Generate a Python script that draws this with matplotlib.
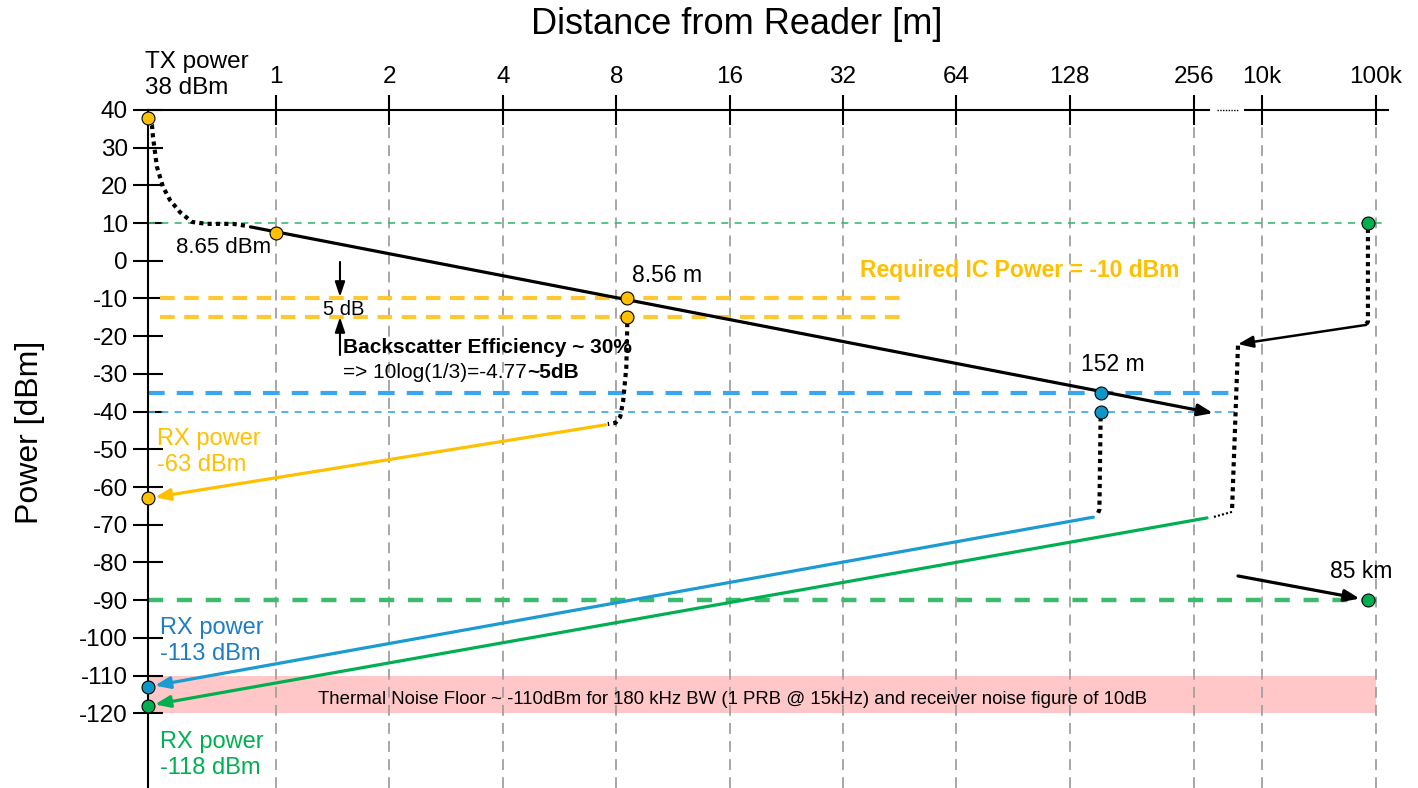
import numpy as np
import matplotlib
matplotlib.use("Agg")
import matplotlib.pyplot as plt

plt.rcParams['font.family'] = ['Liberation Sans', 'DejaVu Sans']
plt.rcParams['axes.unicode_minus'] = False

# ---- data ----
dist_ticks = [1, 2, 4, 8, 16, 32, 64, 128, 256, 1e4, 1e5]
dist_tick_labels = ['1', '2', '4', '8', '16', '32', '64', '128', '256', '10k', '100k']
power_ticks = list(range(-120, 41, 10))

# near field part from the reader (distance 0) to ~0.8 m
near_d = [0, 0.031, 0.039, 0.070, 0.117, 0.172, 0.25, 0.344, 0.461, 0.664, 0.781]
near_p = [38, 36.0, 32.8, 24.9, 19.6, 16.1, 12.9, 10.3, 9.8, 9.8, 9.2]

# free space path loss line (start / arrow end)
fspl_d = [0.8, 714]
fspl_p = [9.0, -40.4]

# markers
orange_d = [0, 1, 8.56, 8.56, 0]
orange_p = [38, 7.5, -10, -15, -63]
blue_d = [152, 152, 0]
blue_p = [-35, -40, -113]
green_d = [85000, 85000, 0]
green_p = [10, -90, -118]

# return paths (tag -> reader)
orange_drop_d = [8.56, 8.51, 8.35, 8.20, 7.96, 7.60]
orange_drop_p = [-16.5, -28.2, -37, -41.4, -43, -43.3]
orange_back_d = [7.5, 0]
orange_back_p = [-43.5, -63]

blue_drop_d = [152, 151, 149.5]
blue_drop_p = [-41.5, -66, -67.2]
blue_back_d = [146, 0]
blue_back_p = [-68, -113]

green_drop1_d = [85000, 85000, 82000]
green_drop1_p = [8.5, -16.2, -16.8]
green_refl_d = [82000, 2742]
green_refl_p = [-17, -22.1]
green_drop2_d = [2742, 1983]
green_drop2_p = [-22.5, -66.6]
green_link_d = [1983, 714]
green_link_p = [-66.6, -68]
green_back_d = [517, 0]
green_back_p = [-68.2, -118]
far_arrow_d = [2742, 85000]
far_arrow_p = [-83.6, -90]

# ---- layout of the distance axis ----
TICK_POS = [0, 1, 2, 3, 4, 5, 6, 7, 8.095, 8.695, 9.70]
U_READER = -1.129
U_END = 9.806
Y_BOTTOM = 40 - 678 / 3.77


def pos(d):
    d = np.asarray(d, float)
    near = U_READER * (1 - d)
    far = np.interp(np.log10(np.maximum(d, 1e-9)), np.log10(dist_ticks), TICK_POS)
    return np.where(d < 1, near, far)


ORANGE = '#FFC000'
ORANGE_DASH = '#FFC832'
BLUE_MARK = '#0E96C8'
BLUE_LINE = '#1A9BD2'
BLUE_TEXT = '#1F7CC6'
BLUE_DASH = '#3AA6F0'
GREEN = '#00B050'
GREEN_DASH = '#3CBB6E'
PINK = '#FFC7C7'
DOT = (0, (1, 1))

fig = plt.figure(figsize=(14.18, 7.88), dpi=100)
ax = fig.add_axes([148 / 1418, 0, 1240 / 1418, 1 - 110 / 788])
ax.set_xlim(U_READER, U_END)
ax.set_ylim(Y_BOTTOM, 40)
for s in ['top', 'right', 'bottom']:
    ax.spines[s].set_visible(False)
ax.spines['left'].set_linewidth(1.5)

ax.xaxis.tick_top()
ax.set_xticks(pos(dist_ticks))
ax.set_xticklabels(dist_tick_labels)
ax.set_yticks(power_ticks)
ax.set_yticklabels([str(v) for v in power_ticks])
ax.tick_params(axis='x', direction='inout', length=21, width=1.5, labelsize=17.5, pad=5)
ax.tick_params(axis='y', direction='inout', length=21, width=1.5, labelsize=17.5, pad=4)

# top axis line with break
ax.plot([U_READER, 8.228], [40, 40], color='k', lw=1.5, clip_on=False)
ax.plot([8.30, 8.48], [40, 40], color='k', lw=1, ls=DOT, clip_on=False)
ax.plot([8.545, U_END], [40, 40], color='k', lw=1.5, clip_on=False)

# grid
ax.vlines(pos(dist_ticks), Y_BOTTOM, 36, colors='#a0a0a0', linestyles=[(0, (6, 4))], lw=1.3, zorder=1)

# noise floor band
ax.fill_between([U_READER, float(pos(1e5))], -120, -110, color=PINK, lw=0, zorder=0.5)
ax.text(4.03, -116.3, 'Thermal Noise Floor ~ -110dBm for 180 kHz BW (1 PRB @ 15kHz) and receiver noise figure of 10dB',
        ha='center', va='center', fontsize=13.4, zorder=3)

# reference lines
ax.plot([U_READER, U_END], [10, 10], color=GREEN_DASH, lw=1.2, ls=(0, (4.2, 3.8)), zorder=2)
ax.plot([U_READER, U_END], [-90, -90], color=GREEN_DASH, lw=3.2, ls=(0, (3.4, 3.1)), zorder=2)
for p in [-10, -15]:
    ax.plot([-1.023, 5.545], [p, p], color=ORANGE_DASH, lw=3, ls=(0, (3.5, 2.3)), zorder=2)
ax.plot([U_READER, 8.48], [-35, -35], color=BLUE_DASH, lw=3, ls=(0, (4.0, 2.9)), zorder=2)
ax.plot([U_READER, 8.48], [-40, -40], color=BLUE_DASH, lw=1.2, ls=(0, (4.2, 3.8)), zorder=2)


def arrow(d, p, color, lw=2.2, shrink=0.0):
    ax.annotate('', xy=(float(pos(d[1])), p[1]), xytext=(float(pos(d[0])), p[0]),
                arrowprops=dict(arrowstyle='-|>,head_length=0.9,head_width=0.35', color=color, lw=lw,
                                shrinkA=0, shrinkB=shrink, mutation_scale=10),
                annotation_clip=False, zorder=4)


# forward link
ax.plot(pos(near_d), near_p, color='k', lw=3, ls=DOT, zorder=4, clip_on=False)
arrow(fspl_d, fspl_p, 'k', lw=2.3)

# return links
ax.plot(pos(orange_drop_d), orange_drop_p, color='k', lw=3, ls=DOT, zorder=4)
arrow(orange_back_d, orange_back_p, ORANGE, lw=2.3, shrink=5)
ax.plot(pos(blue_drop_d), blue_drop_p, color='k', lw=3, ls=DOT, zorder=4)
arrow(blue_back_d, blue_back_p, BLUE_LINE, lw=2.3, shrink=5)
ax.plot(pos(green_drop1_d), green_drop1_p, color='k', lw=3, ls=DOT, zorder=4)
arrow(green_refl_d, green_refl_p, 'k', lw=1.8)
ax.plot(pos(green_drop2_d), green_drop2_p, color='k', lw=3, ls=DOT, zorder=4)
ax.plot(pos(green_link_d), green_link_p, color='k', lw=1.5, ls=DOT, zorder=4)
arrow(green_back_d, green_back_p, GREEN, lw=2.3, shrink=5)
arrow(far_arrow_d, far_arrow_p, 'k', lw=2.3, shrink=6)

# 5 dB arrows
ax.annotate('', xy=(0.564, -9.6), xytext=(0.564, -0.3),
            arrowprops=dict(arrowstyle='-|>,head_length=0.9,head_width=0.3', color='k', lw=1.5,
                            shrinkA=0, shrinkB=0, mutation_scale=10))
ax.annotate('', xy=(0.564, -14.9), xytext=(0.564, -25),
            arrowprops=dict(arrowstyle='-|>,head_length=0.9,head_width=0.3', color='k', lw=1.5,
                            shrinkA=0, shrinkB=0, mutation_scale=10))

# markers
mk = dict(marker='o', ls='none', ms=9.3, mec='k', mew=0.8, zorder=6, clip_on=False)
ax.plot(pos(orange_d), orange_p, mfc=ORANGE, **mk)
ax.plot(pos(blue_d), blue_p, mfc=BLUE_MARK, **mk)
ax.plot(pos(green_d), green_p, mfc=GREEN, **mk)

# texts
ax.text(-1.155, 49.3, 'TX power\n38 dBm', ha='left', va='center', fontsize=17.5, linespacing=1.25)
ax.text(-0.459, 3.66, '8.65 dBm', ha='center', va='center', fontsize=16)
ax.text(float(pos(8.56)) + 0.04, -4.0, '8.56 m', ha='left', va='center', fontsize=16.5)
ax.text(float(pos(152)) - 0.176, -27.4, '152 m', ha='left', va='center', fontsize=16.5)
ax.text(float(pos(85000)) - 0.335, -82.5, '85 km', ha='left', va='center', fontsize=16.5)
ax.text(5.15, -2.7, 'Required IC Power = -10 dBm', ha='left', va='center', fontsize=16.5,
        fontweight='bold', color=ORANGE)
ax.text(0.60, -12.8, '5 dB', ha='center', va='center', fontsize=14.5)
ax.text(0.591, -23.1, 'Backscatter Efficiency ~ 30%', ha='left', va='center', fontsize=15, fontweight='bold')
t1 = ax.text(0.591, -29.5, '=> 10log(1/3)=-4.77', ha='left', va='center', fontsize=15)
ax.annotate('~5dB', xy=(1, 0), xycoords=t1, ha='left', va='bottom', fontsize=15, fontweight='bold')

ax.text(-1.049, -50.7, 'RX power\n-63 dBm', ha='left', va='center', fontsize=17, color=ORANGE, linespacing=1.25)
ax.text(-1.023, -100.8, 'RX power\n-113 dBm', ha='left', va='center', fontsize=17, color=BLUE_TEXT, linespacing=1.25)
ax.text(-1.023, -131.1, 'RX power\n-118 dBm', ha='left', va='center', fontsize=17, color=GREEN, linespacing=1.25)

fig.text(737 / 1418, 1 - 25 / 788, 'Distance from Reader [m]', ha='center', va='center', fontsize=26)
fig.text(30 / 1418, 1 - 432 / 788, 'Power [dBm]', ha='center', va='center', fontsize=23, rotation=90)

fig.savefig('out.png', dpi=100)
